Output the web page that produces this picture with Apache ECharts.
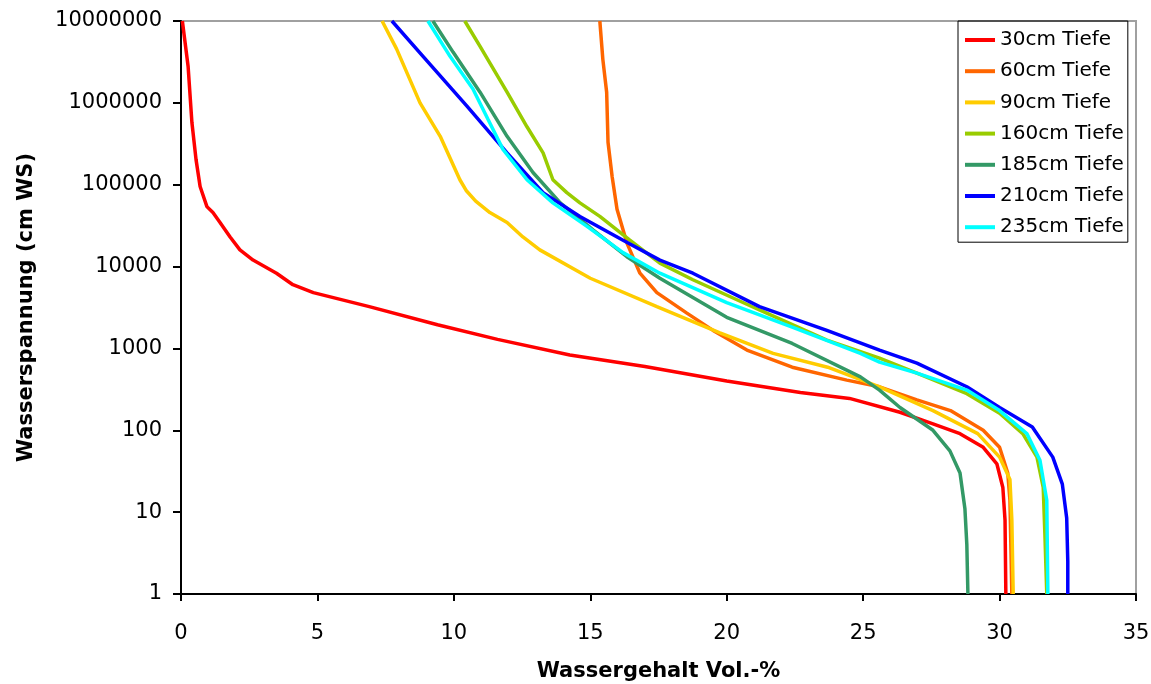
<!DOCTYPE html>
<html>
<head>
<meta charset="utf-8">
<script src="https://cdn.jsdelivr.net/npm/echarts@6/dist/echarts.min.js"></script>
<style>
html, body { margin: 0; padding: 0; background: #fff; }
#chart { width: 1151px; height: 684px; }
</style>
</head>
<body>
<div id="chart"></div>
<script>
// Wassergehalt (Vol.-%) gegen Wasserspannung (cm WS), je Tiefe
var names = ['30cm Tiefe', '60cm Tiefe', '90cm Tiefe', '160cm Tiefe', '185cm Tiefe', '210cm Tiefe', '235cm Tiefe'];
var colors = ['#FF0000', '#FF6600', '#FFCC00', '#99CC00', '#339966', '#0000FF', '#00FFFF'];

var t30 = [[0.05, 10000000], [0.26, 2800000], [0.4, 575000], [0.55, 204000], [0.7, 95000], [0.95, 54000], [1.17, 45700], [1.43, 34600], [1.8, 23000], [2.16, 16000], [2.64, 12000], [3.5, 8300], [4.1, 6000], [4.85, 4800], [6.9, 3240], [9.4, 1950], [11.6, 1290], [14.25, 830], [17.0, 600], [20.0, 400], [22.7, 290], [24.5, 245], [26.35, 166], [27.56, 120], [28.55, 91], [29.4, 62], [29.9, 39], [30.12, 20], [30.2, 8], [30.23, 1]];
var t60 = [[15.35, 10000000], [15.46, 3400000], [15.6, 1350000], [15.65, 330000], [15.8, 126000], [15.98, 50000], [16.34, 19500], [16.82, 8300], [17.44, 4800], [18.54, 2700], [19.5, 1660], [20.74, 955], [22.4, 590], [24.4, 410], [25.6, 340], [26.97, 235], [28.2, 174], [29.4, 100], [30.0, 62], [30.3, 30], [30.38, 14], [30.45, 1]];
var t90 = [[7.37, 10000000], [7.9, 4570000], [8.76, 1000000], [9.5, 390000], [10.22, 115000], [10.45, 85000], [10.8, 63000], [11.32, 45700], [11.95, 34600], [12.53, 23000], [13.15, 16000], [15.0, 7200], [17.44, 3240], [19.75, 1550], [21.7, 870], [23.7, 590], [25.6, 340], [27.56, 174], [29.2, 91], [30.0, 47], [30.38, 25], [30.45, 8], [30.5, 1]];
var t160 = [[10.4, 10000000], [10.96, 4900000], [11.95, 1350000], [12.68, 510000], [13.27, 245000], [13.63, 115000], [14.14, 80000], [14.62, 60000], [15.35, 41000], [16.45, 21000], [17.55, 11000], [18.76, 6900], [21.2, 2950], [23.67, 1260], [25.6, 760], [26.97, 500], [28.8, 280], [30.0, 162], [30.85, 91], [31.37, 47], [31.6, 20], [31.66, 5.5], [31.73, 1]];
var t185 = [[9.23, 10000000], [9.97, 4170000], [10.96, 1350000], [11.95, 390000], [12.9, 141000], [13.9, 60000], [15.1, 28000], [16.34, 13200], [17.55, 7200], [20.0, 2400], [22.4, 1150], [24.9, 450], [25.6, 310], [26.35, 190], [27.56, 100], [28.18, 56], [28.55, 30], [28.73, 11], [28.8, 4], [28.84, 1]];
var t210 = [[7.73, 10000000], [8.87, 3700000], [10.48, 910000], [11.95, 245000], [13.27, 80000], [14.62, 41000], [16.2, 21000], [17.55, 12000], [18.76, 8300], [21.2, 3240], [23.67, 1660], [25.6, 955], [26.97, 660], [28.8, 340], [30.0, 190], [31.2, 110], [31.95, 47], [32.3, 22], [32.46, 8.5], [32.5, 2.5], [32.5, 1]];
var t235 = [[9.05, 10000000], [9.86, 3700000], [10.7, 1480000], [11.25, 630000], [11.8, 270000], [12.68, 115000], [13.63, 60000], [14.88, 31000], [16.2, 14800], [17.55, 8300], [20.0, 3630], [22.4, 1820], [24.9, 870], [25.6, 680], [26.97, 500], [28.8, 310], [30.0, 174], [31.0, 91], [31.48, 43], [31.73, 14], [31.77, 1]];
var curves = [t30, t60, t90, t160, t185, t210, t235];

var series = [];
for (var i = 0; i < curves.length; i++) {
	series.push({
		name: names[i],
		type: 'line',
		data: curves[i],
		symbol: 'none',
		color: colors[i],
		lineStyle: { color: colors[i], width: 3.5 }
	});
}

var font = 'DejaVu Sans, sans-serif';
var myChart = echarts.init(document.getElementById('chart'));
myChart.setOption({
	animation: false,
	textStyle: { fontFamily: font },
	grid: {
		left: 181, top: 21, right: 15, bottom: 90,
		outerBoundsMode: 'none',
		show: true, borderColor: '#a0a0a0', borderWidth: 2
	},
	legend: {
		orient: 'vertical',
		left: 958, top: 21,
		data: names,
		icon: 'rect',
		itemWidth: 30, itemHeight: 4,
		itemGap: 7.2,
		padding: [7, 4, 3, 7],
		borderColor: '#000', borderWidth: 1,
		textStyle: { fontFamily: font, fontSize: 20, color: '#000', lineHeight: 24 }
	},
	xAxis: {
		type: 'value',
		min: 0, max: 35, interval: 5,
		name: 'Wassergehalt Vol.-%',
		nameLocation: 'middle', nameGap: 67,
		nameTextStyle: { fontFamily: font, fontSize: 21, fontWeight: 'bold', color: '#000' },
		axisLine: { onZero: false, lineStyle: { color: '#000', width: 2 } },
		axisTick: { length: 7, lineStyle: { color: '#000', width: 2 } },
		axisLabel: { fontFamily: font, fontSize: 21, color: '#000', margin: 29 },
		splitLine: { show: false }
	},
	yAxis: {
		type: 'log', logBase: 10,
		min: 1, max: 10000000,
		name: 'Wasserspannung (cm WS)',
		nameLocation: 'middle', nameGap: 144,
		nameTextStyle: { fontFamily: font, fontSize: 21, fontWeight: 'bold', color: '#000' },
		axisLine: { lineStyle: { color: '#000', width: 2 } },
		axisTick: { length: 8, lineStyle: { color: '#000', width: 2 } },
		axisLabel: {
			fontFamily: font, fontSize: 21, color: '#000', margin: 19,
			formatter: function(v) { return String(Math.round(v)); }
		},
		splitLine: { show: false }
	},
	series: series
});
</script>
</body>
</html>
